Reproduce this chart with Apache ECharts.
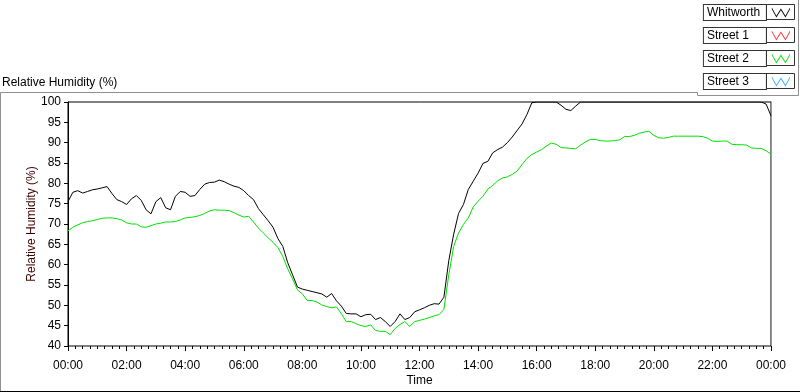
<!DOCTYPE html>
<html>
<head>
<meta charset="utf-8">
<script src="https://cdn.jsdelivr.net/npm/echarts@6/dist/echarts.min.js"></script>
<style>
  html, body { margin: 0; padding: 0; background: #fff; }
  #chart { width: 800px; height: 392px; }
</style>
</head>
<body>
<div id="chart"></div>
<script>
// one sample every 10 minutes, 00:00 -> 24:00
var STEP_MIN = 10;

var whitworth = [
    75.5, 77.8, 78.2, 77.6, 78.0, 78.4, 78.6, 78.9, 79.2, 77.5, 76.0, 75.5,
    74.8, 76.2, 77.0, 75.8, 73.5, 72.5, 75.5, 76.5, 74.0, 73.5, 76.8, 78.0,
    77.8, 76.8, 77.0, 78.5, 79.8, 80.2, 80.3, 80.8, 80.4, 79.8, 79.3, 79.0,
    78.2, 77.0, 76.0, 73.8, 72.3, 70.8, 69.2, 66.4, 64.5, 60.5, 57.5, 54.5,
    54.0, 53.7, 53.4, 53.1, 52.8, 52.0, 52.9, 51.1, 49.8, 48.0, 47.9, 47.9,
    47.2, 47.7, 47.8, 46.5, 47.0, 46.0, 44.8, 46.0, 47.9, 46.5, 47.0, 48.4,
    48.9, 49.4, 50.0, 50.4, 50.3, 52.0, 61.0, 67.5, 72.6, 74.8, 78.5, 80.5,
    82.5, 84.9, 85.4, 87.5, 88.3, 88.9, 90.0, 91.4, 93.0, 94.6, 96.9, 99.8,
    100, 100, 100, 100, 100, 99.2, 98.2, 97.9, 99.0, 100, 100, 100,
    100, 100, 100, 100, 100, 100, 100, 100, 100, 100, 100, 100,
    100, 100, 100, 100, 100, 100, 100, 100, 100, 100, 100, 100,
    100, 100, 100, 100, 100, 100, 100, 100, 100, 100, 100, 99.5,
    96.6
];

var street2 = [
    68.3, 69.2, 69.8, 70.3, 70.6, 70.8, 71.1, 71.4, 71.5, 71.5, 71.3, 71.0,
    70.3, 70.0, 70.0, 69.3, 69.2, 69.6, 70.0, 70.2, 70.5, 70.5, 70.6, 71.0,
    71.5, 71.6, 71.8, 72.1, 72.6, 73.2, 73.5, 73.4, 73.4, 73.3, 72.8, 72.2,
    71.7, 71.9, 70.5, 69.0, 67.8, 66.6, 65.5, 64.2, 62.0, 59.0, 56.5, 53.8,
    52.8, 51.2, 51.2, 50.8, 50.1, 49.7, 49.4, 49.6, 47.9, 46.0, 46.0, 45.5,
    45.0, 44.8, 45.2, 43.8, 43.6, 43.6, 42.8, 44.3, 45.3, 46.0, 44.8, 46.0,
    46.3, 46.6, 47.0, 47.4, 47.7, 49.0, 57.5, 64.5, 67.8, 69.9, 71.5, 74.2,
    75.6, 76.8, 78.6, 79.5, 80.6, 81.3, 81.6, 82.2, 83.0, 84.6, 86.1, 87.1,
    87.7, 88.3, 89.2, 89.9, 89.6, 88.8, 88.7, 88.6, 88.5, 89.4, 90.2, 90.8,
    90.8, 90.5, 90.4, 90.4, 90.5, 90.7, 91.5, 91.5, 91.8, 92.3, 92.6, 92.8,
    91.8, 91.2, 91.1, 91.3, 91.6, 91.6, 91.6, 91.6, 91.6, 91.6, 91.5, 91.1,
    90.4, 90.3, 90.4, 90.4, 89.6, 89.5, 89.5, 89.4, 88.7, 88.6, 88.6, 88.0,
    87.2
];

// no readings shown for these two
var street1 = [];
var street3 = [];

var seriesNames = ['Whitworth', 'Street 1', 'Street 2', 'Street 3'];
var seriesColors = ['#000000', '#ff3030', '#00e000', '#30b0ff'];

var FONT = 'Liberation Sans';

function toPairs(values) {
    return values.map(function(v, i) {
        return [i * STEP_MIN, v];
    });
}

function timeLabel(m) {
    var h = Math.floor(m / 60) % 24;
    var mm = m % 60;
    return (h < 10 ? '0' : '') + h + ':' + (mm < 10 ? '0' : '') + mm;
}

var zigzag = 'path://M0,0 L5,9 L10,1 L15,9 L20,0 L20,2 L15,11 L10,3 L5,11 L0,2 Z';

// frames round the icons of the legend (4 rows, 23px apart)
function iconBox(y) {
    return { type: 'rect', silent: true, shape: { x: 766.5, y: y + 0.5, width: 28, height: 15 }, style: { stroke: '#333', fill: null } };
}

var chart = echarts.init(document.getElementById('chart'));

var option = {
    animation: false,
    backgroundColor: '#fff',
    title: {
        text: 'Relative Humidity (%)',
        left: 2,
        top: 77,
        padding: 0,
        textStyle: { fontFamily: FONT, fontSize: 12, fontWeight: 'normal', color: '#000' }
    },
    legend: {
        orient: 'vertical',
        right: 10,
        top: 4,
        padding: 0,
        itemGap: 6,
        itemWidth: 20,
        itemHeight: 10,
        align: 'right',
        icon: zigzag,
        itemStyle: { borderWidth: 0 },
        data: seriesNames,
        selectedMode: false,
        formatter: '{n|{name}}',
        textStyle: {
            fontFamily: FONT,
            fontSize: 12,
            color: '#000',
            padding: [1, 3, 1, 3],
            borderColor: '#333',
            borderWidth: 1,
            backgroundColor: '#fff',
            rich: {
                n: { fontFamily: FONT, fontSize: 12, color: '#000', width: 56, height: 13, lineHeight: 13, align: 'left' }
            }
        }
    },
    graphic: [
        { type: 'polyline', silent: true, shape: { points: [[0.5, 392], [0.5, 92.5], [697.5, 92.5], [697.5, 95.5], [798.5, 95.5], [798.5, 0]] }, style: { stroke: '#909090', fill: null, lineWidth: 1 } },
        { type: 'line', silent: true, shape: { x1: 0, y1: 391.5, x2: 800, y2: 391.5 }, style: { stroke: '#000', lineWidth: 1 } },
        iconBox(4), iconBox(27), iconBox(50), iconBox(73)
    ],
    grid: {
        left: 68,
        right: 29,
        top: 102,
        bottom: 40,
        show: true,
        borderColor: '#000',
        borderWidth: 1,
        backgroundColor: '#fff'
    },
    xAxis: {
        type: 'value',
        min: 0,
        max: 1440,
        interval: 120,
        name: 'Time',
        nameLocation: 'middle',
        nameGap: 29,
        nameMoveOverlap: false,
        nameTextStyle: { fontFamily: FONT, fontSize: 12, color: '#000' },
        axisLine: { show: true, lineStyle: { color: '#808080', width: 1 } },
        axisTick: { show: true, length: 5, lineStyle: { color: '#000' } },
        minorTick: { show: true, splitNumber: 8, length: 3, lineStyle: { color: '#000' } },
        splitLine: { show: false },
        axisLabel: {
            margin: 14,
            fontFamily: FONT,
            fontSize: 12,
            color: '#000',
            formatter: function(v) { return timeLabel(v); }
        }
    },
    yAxis: [{
        type: 'value',
        min: 40,
        max: 100,
        interval: 5,
        name: 'Relative Humidity (%)',
        nameLocation: 'middle',
        nameGap: 30,
        nameMoveOverlap: false,
        nameTextStyle: { fontFamily: FONT, fontSize: 12, color: '#400000' },
        axisLine: { show: true, lineStyle: { color: '#000', width: 1 } },
        axisTick: { show: true, length: 4, lineStyle: { color: '#000' } },
        splitLine: { show: false },
        axisLabel: { margin: 7, fontFamily: FONT, fontSize: 12, color: '#000' }
    }, {
        type: 'value',
        position: 'right',
        min: 40,
        max: 100,
        axisLine: { show: true, lineStyle: { color: '#999', width: 1 } },
        axisTick: { show: false },
        axisLabel: { show: false },
        splitLine: { show: false }
    }],
    series: [
        { name: 'Whitworth', type: 'line', data: toPairs(whitworth) },
        { name: 'Street 1', type: 'line', data: toPairs(street1) },
        { name: 'Street 2', type: 'line', data: toPairs(street2) },
        { name: 'Street 3', type: 'line', data: toPairs(street3) }
    ].map(function(s, i) {
        s.color = seriesColors[i];
        s.showSymbol = false;
        s.symbol = 'none';
        s.lineStyle = { width: 1, color: seriesColors[i] };
        s.z = i === 0 ? 3 : 2;
        return s;
    })
};

chart.setOption(option);
</script>
</body>
</html>
